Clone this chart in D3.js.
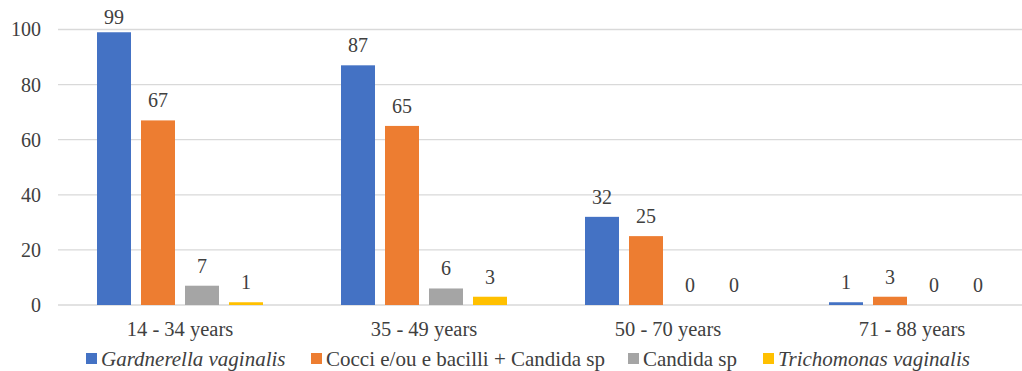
<!DOCTYPE html>
<html>
<head>
<meta charset="utf-8">
<script src="https://cdn.jsdelivr.net/npm/d3@7"></script>
<style>
  html, body { margin: 0; padding: 0; background: #fff; }
</style>
</head>
<body>
<svg id="chart" width="1022" height="371"></svg>
<script>
// Age groups along the x axis
const categories = ["14 - 34 years", "35 - 49 years", "50 - 70 years", "71 - 88 years"];

// One series per finding
const seriesNames = ["Gardnerella vaginalis", "Cocci e/ou e bacilli + Candida sp", "Candida sp", "Trichomonas vaginalis"];
const seriesItalic = [true, false, false, true];
const gardnerella = [99, 87, 32, 1];
const cocci = [67, 65, 25, 3];
const candida = [7, 6, 0, 0];
const trichomonas = [1, 3, 0, 0];
const seriesValues = [gardnerella, cocci, candida, trichomonas];
const seriesColors = ["#4472C4", "#ED7D31", "#A5A5A5", "#FFC000"];

const yTicks = [0, 20, 40, 60, 80, 100];

const FONT = "'Liberation Serif', 'Times New Roman', serif";
const TEXT_COLOR = "#404040";

const svg = d3.select("#chart");
const plotLeft = 58, plotRight = 1034, plotTop = 29.5, plotBottom = 305;

const x0 = d3.scaleBand().domain(categories).range([plotLeft, plotRight]).paddingInner(0).paddingOuter(0);
const x1 = d3.scaleBand().domain(d3.range(seriesNames.length))
  .range([x0.bandwidth() / 2 - 88, x0.bandwidth() / 2 + 88]).paddingInner(10 / 44).paddingOuter(5 / 44);
const y = d3.scaleLinear().domain([0, 100]).range([plotBottom, plotTop]);

function styleText(sel, size) {
  return sel.style("font-family", FONT).style("font-size", size + "px").style("fill", TEXT_COLOR);
}

// Horizontal gridlines
svg.append("g").selectAll("line").data(yTicks).join("line")
  .attr("x1", plotLeft).attr("x2", 1022)
  .attr("y1", d => y(d)).attr("y2", d => y(d))
  .attr("stroke", "#d9d9d9").attr("stroke-width", 1.3);

// Y axis tick labels
const yAxis = d3.axisLeft(y).tickValues(yTicks).tickSize(0).tickPadding(17);
const yg = svg.append("g").attr("transform", `translate(${plotLeft},0)`).call(yAxis);
yg.select(".domain").remove();
styleText(yg.selectAll("text"), 20).attr("dy", "0.32em");

// X axis category labels
const xAxis = d3.axisBottom(x0).tickSize(0);
const xg = svg.append("g").attr("transform", `translate(0,${plotBottom})`).call(xAxis);
xg.select(".domain").remove();
styleText(xg.selectAll("text"), 20.5).attr("y", 31).attr("dy", 0);

// Bars and value labels (labels stay inside the plot area at the top)
const groups = svg.append("g").selectAll("g").data(categories).join("g")
  .attr("transform", d => `translate(${x0(d)},0)`);

groups.each(function(cat, ci) {
  const g = d3.select(this);
  const rows = seriesValues.map((vals, si) => ({ si, v: vals[ci] }));
  g.selectAll("rect").data(rows).join("rect")
    .attr("x", d => x1(d.si))
    .attr("width", x1.bandwidth())
    .attr("y", d => y(d.v))
    .attr("height", d => y(0) - y(d.v))
    .attr("fill", d => seriesColors[d.si]);
  styleText(g.selectAll("text").data(rows).join("text")
    .attr("x", d => x1(d.si) + x1.bandwidth() / 2)
    .attr("y", d => Math.max(y(d.v) - 13, 24))
    .attr("text-anchor", "middle")
    .text(d => d.v), 20);
});

// Legend
const legendX = [86, 311, 628, 763];
const legend = svg.append("g").selectAll("g").data(seriesNames).join("g")
  .attr("transform", (d, i) => `translate(${legendX[i]},366)`);
legend.append("rect").attr("x", 0).attr("y", -13).attr("width", 11).attr("height", 11)
  .attr("fill", (d, i) => seriesColors[i]);
styleText(legend.append("text").attr("x", 15).attr("y", 0)
  .style("font-style", (d, i) => seriesItalic[i] ? "italic" : "normal")
  .text(d => d), 21);
</script>
</body>
</html>
